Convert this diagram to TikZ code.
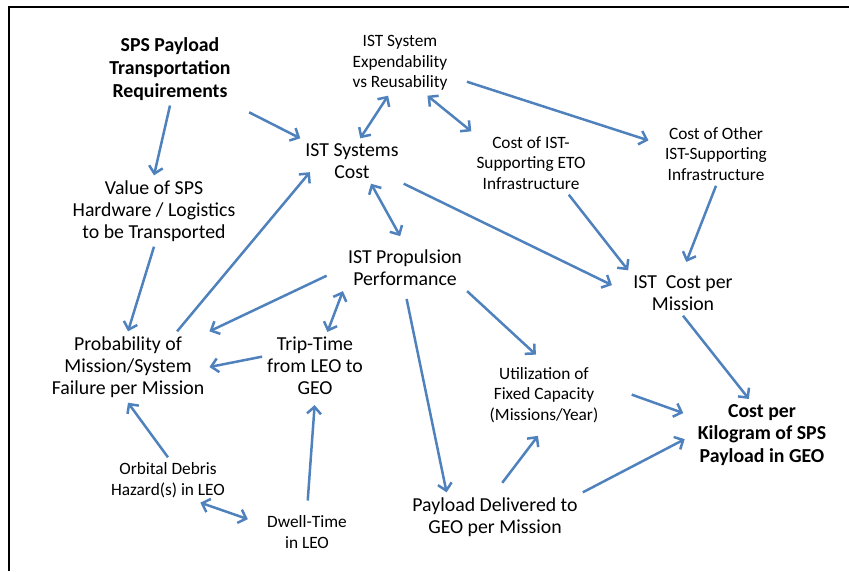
\documentclass[tikz,border=0pt]{standalone}
\usepackage{fontspec}
\setmainfont{Carlito}
\usepackage{tikz}
\usetikzlibrary{arrows.meta}
\definecolor{linkblue}{RGB}{79,129,189}

\begin{document}
\begin{tikzpicture}[x=1pt,y=-1pt,
    >={Straight Barb[length=7pt,width=14pt]},
    every node/.style={align=center,inner sep=5pt},
    factor/.style={font=\fontsize{19.8}{22}\selectfont},
    minor/.style={font=\fontsize{17.3}{20.5}\selectfont},
    goal/.style={font=\fontsize{19.8}{22.8}\selectfont\bfseries},
    link/.style={draw=linkblue,line width=2.5pt,->},
    dlink/.style={draw=linkblue,line width=2.5pt,<->}]

    % Page frame (top and left edges only)
    \useasboundingbox (0,0) rectangle (849,571);
    \draw[line width=2.2pt] (849,7) -- (9,7) -- (9,571);

    % Factors
    \node[goal]   (req)   at (170,69)  {SPS Payload\\Transportation\\Requirements};
    \node[minor]  (exp)   at (400,63)  {IST System\\Expendability\\vs Reusability};
    \node[factor] (cost)  at (352,161) {IST Systems\\Cost};
    \node[minor]  (eto)   at (531,163) {Cost of IST-\\Supporting ETO\\Infrastructure};
    \node[minor]  (oth)   at (716,154) {Cost of Other\\IST-Supporting\\Infrastructure};
    \node[factor] (val)   at (154,211) {Value of SPS\\Hardware / Logistics\\to be Transported};
    \node[factor] (prop)  at (405,268) {IST Propulsion\\Performance};
    \node[factor] (cpm)   at (683,293) {IST\ \ Cost per\\Mission};
    \node[factor] (prob)  at (128,367) {Probability of\\Mission/System\\Failure per Mission};
    \node[factor] (trip)  at (315,366) {Trip-Time\\from LEO to\\GEO};
    \node[minor]  (util)  at (544,395) {Utilization of\\Fixed Capacity\\(Missions/Year)};
    \node[goal]   (kg)    at (762,435) {Cost per\\Kilogram of SPS\\Payload in GEO};
    \node[factor] (pay)   at (495,517) {Payload Delivered to\\GEO per Mission};
    \node[minor]  (deb)   at (168,480) {Orbital Debris\\Hazard(s) in LEO};
    \node[minor]  (dwell) at (307,532) {Dwell-Time\\in LEO};

    % Requirements
    \draw[link] (req.south) -- (val.north);
    \draw[link, shorten <=15pt] (req.south east) -- (cost.north west);

    % Expendability vs reusability
    \draw[dlink] (exp.250) -- (cost.70);
    \draw[dlink] (exp.-50) -- (eto.north west);
    \draw[link, shorten <=15pt, shorten >=12pt] (exp.-15) -- (oth.170);

    % Cost chain
    \draw[dlink, shorten >=10pt] (cost.-50) -- (prop.north);
    \draw[link, shorten >=18pt] (cost.south east) -- (cpm.west);
    \draw[link] (eto.-40) -- (cpm.north west);
    \draw[link, shorten >=9pt] (oth.south) -- (cpm.north);
    \draw[link] (cpm.south) -- (kg.110);

    % Mission failure
    \draw[link] (val.south) -- (prob.north);
    \draw[link, shorten >=-15pt] (prob.36) -- (cost.south west);
    \draw[link, shorten <=18pt] (prop.west) -- (prob.north east);
    \draw[link] (trip.170) -- (prob.east);
    \draw[link] (deb.north) -- (prob.south);

    % Propulsion performance
    \draw[dlink] (prop.south west) -- (trip.70);
    \draw[link, shorten >=11pt] (prop.south east) -- (util.north);
    \draw[link, shorten <=8pt] (prop.south) -- (pay.153);

    % Delivered payload
    \draw[link, shorten <=30pt, shorten >=10pt] (util.10) -- (kg.165);
    \draw[link, shorten >=9pt] (pay.north east) -- (kg.west);
    \draw[link, shorten <=12pt, shorten >=10pt] (pay.north) -- (util.south);

    % LEO stay
    \draw[link, shorten <=10pt, shorten >=5pt] (dwell.north) -- (trip.south);
    \draw[dlink, shorten >=15pt] (deb.-35) -- (dwell.170);

\end{tikzpicture}
\end{document}
